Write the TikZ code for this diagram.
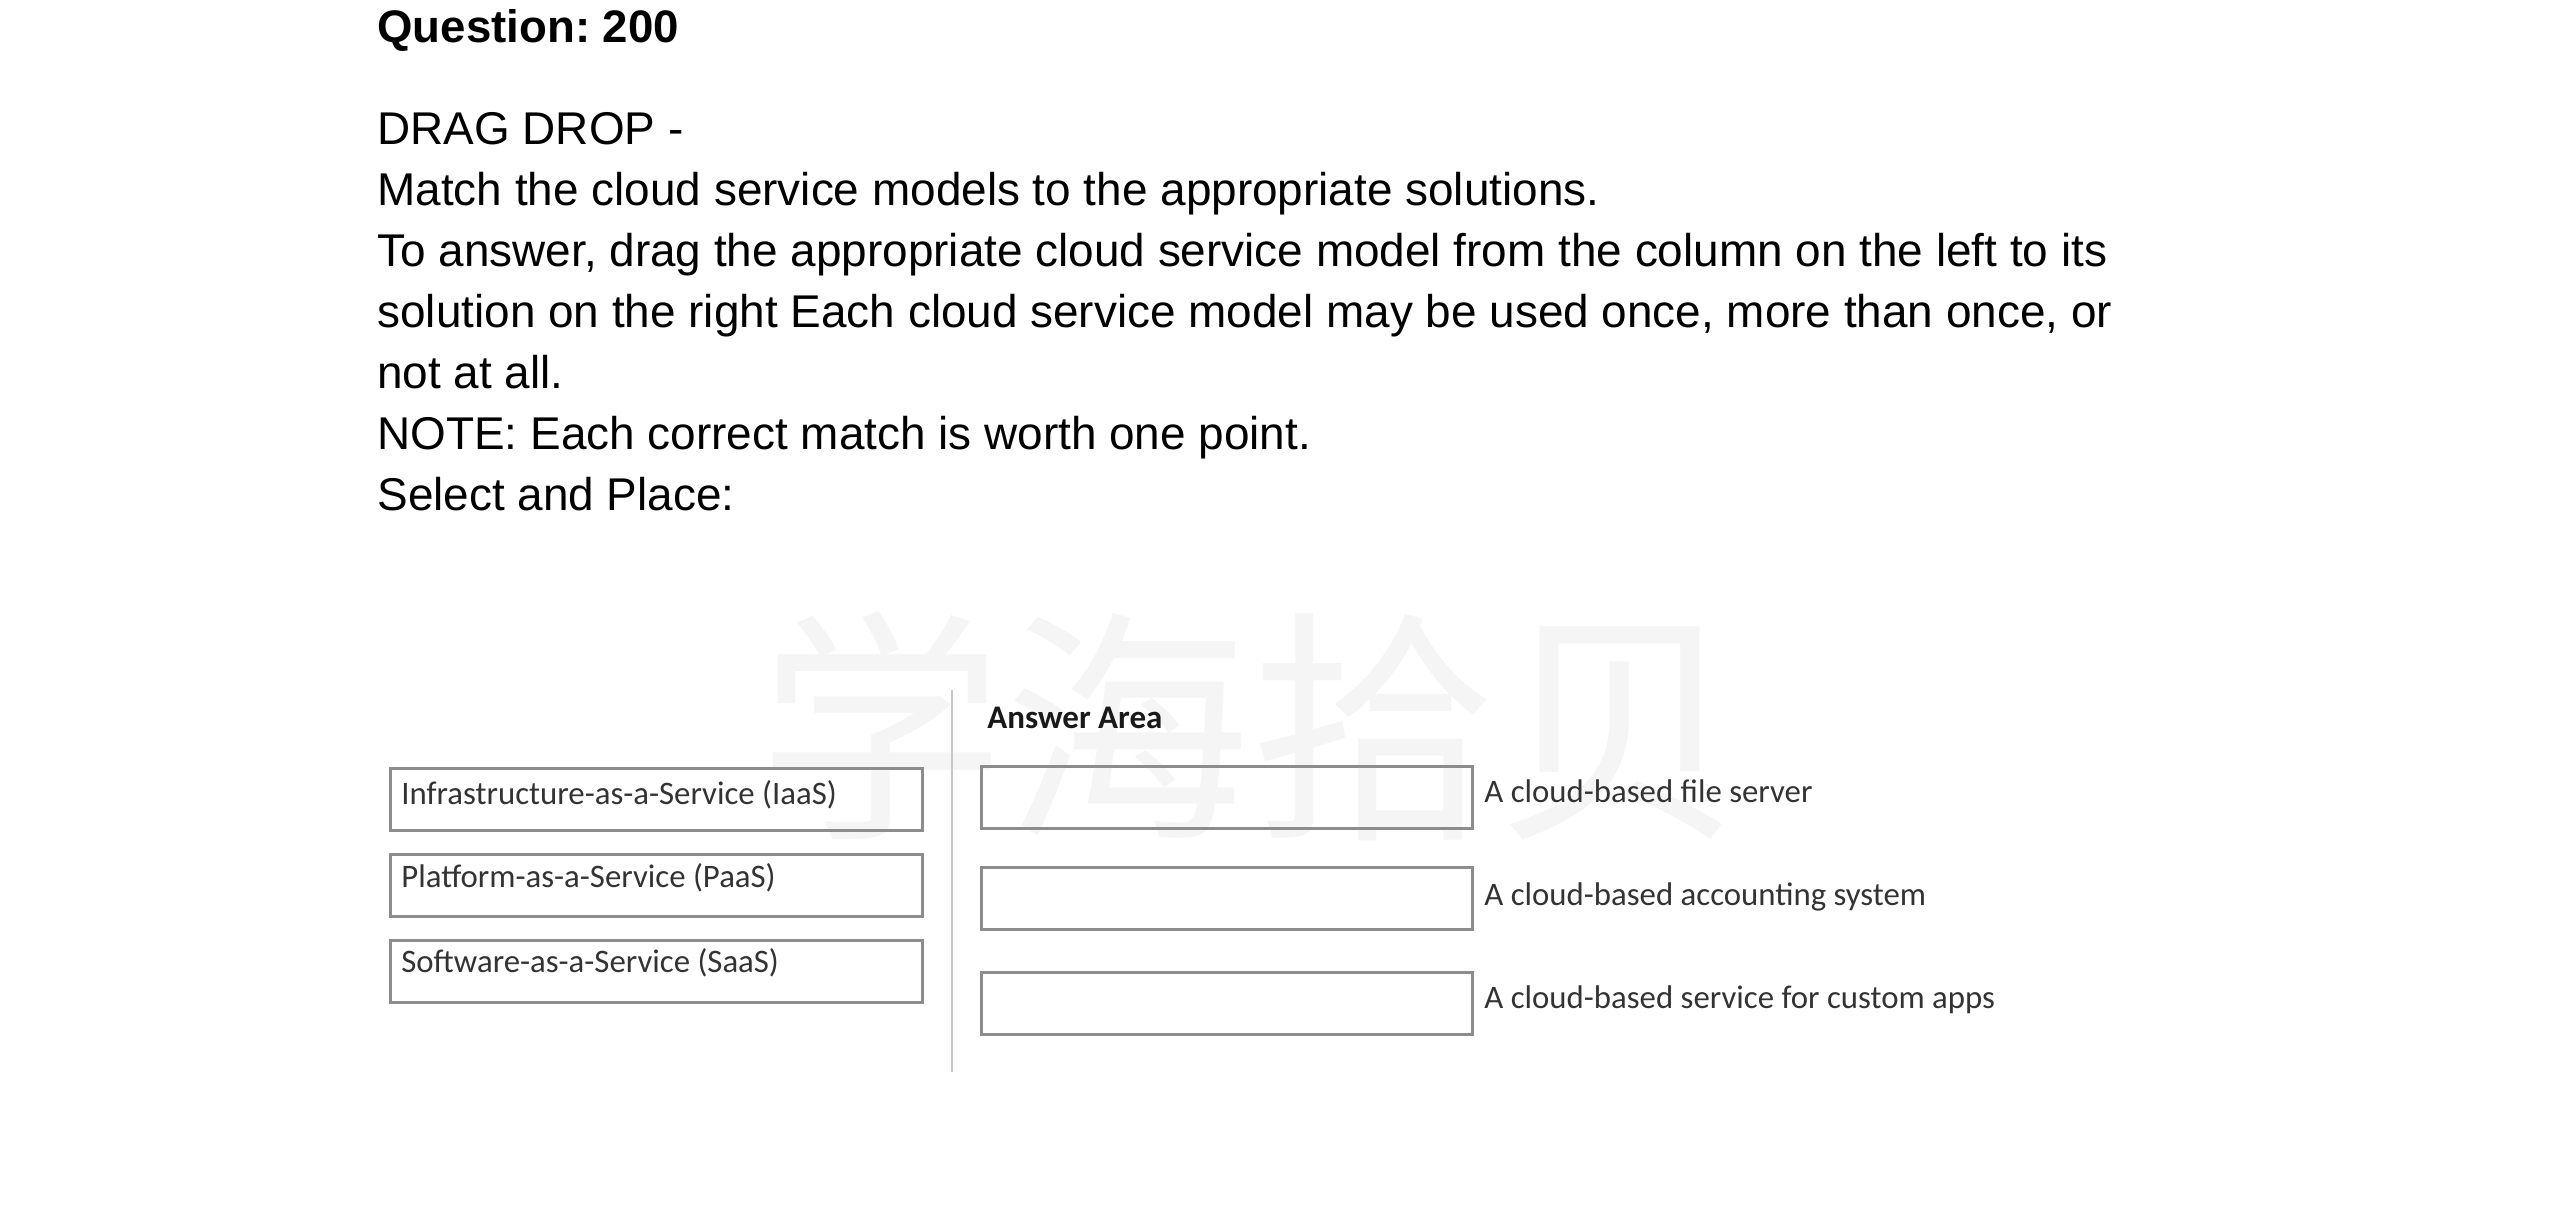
\documentclass[tikz,border=0pt]{standalone}
\usepackage{fontspec}
\setmainfont{Liberation Sans}
\newfontfamily\uifont{Carlito}
\newfontfamily\cjkfont{Noto Sans CJK SC}
\frenchspacing
\begin{document}
\begin{tikzpicture}[x=0.5pt,y=-0.5pt,
  qtext/.style={anchor=base west,inner sep=0pt,font=\fontsize{22.95}{27}\selectfont,text=black},
  uitext/.style={anchor=base west,inner sep=0pt,font=\uifont\fontsize{16.4}{19}\selectfont,text=black!80},
  srcbox/.style={draw=black!45,line width=1.25pt,anchor=north west,inner sep=0pt,minimum width=266pt,minimum height=31pt},
  tgtbox/.style={draw=black!45,line width=1.25pt,anchor=north west,inner sep=0pt,minimum width=245.5pt,minimum height=31pt},
  divider/.style={draw=black!22,line width=1pt},
  wmark/.style={inner sep=0pt,font=\cjkfont\fontsize{123}{123}\selectfont,text=black!4}
]
\useasboundingbox (0,0) rectangle (2550,1231);
\fill[white] (0,0) rectangle (2550,1231);

% watermark
\node[wmark] (wm) at (1250,726) {学海拾贝};

% question text
\node[qtext,font=\fontsize{22.8}{27}\bfseries] (q) at (377,42) {Question: 200};
\node[qtext] (t1) at (377,144) {DRAG DROP -};
\node[qtext] (t2) at (377,205) {Match the cloud service models to the appropriate solutions.};
\node[qtext] (t3) at (377,266) {To answer, drag the appropriate cloud service model from the column on the left to its};
\node[qtext] (t4) at (377,327) {solution on the right Each cloud service model may be used once, more than once, or};
\node[qtext] (t5) at (377,388) {not at all.};
\node[qtext] (t6) at (377,449) {NOTE: Each correct match is worth one point.};
\node[qtext] (t7) at (377,510) {Select and Place:};

% divider
\coordinate (dtop) at (952,690);
\coordinate (dbot) at (952,1072);
\draw[divider] (dtop) -- (dbot);

% source boxes
\node[srcbox] (s1) at (389,767) {};
\node[srcbox] (s2) at (389,853) {};
\node[srcbox] (s3) at (389,939) {};
\node[uitext] (s1t) at (401,804) {Infrastructure-as-a-Service (IaaS)};
\node[uitext] (s2t) at (401,887) {Platform-as-a-Service (PaaS)};
\node[uitext] (s3t) at (401,972) {Software-as-a-Service (SaaS)};

% answer area
\node[uitext,font=\uifont\fontsize{16.5}{19}\bfseries,text=black!90] (aa) at (987,728) {Answer Area};
\node[tgtbox] (a1) at (980,765) {};
\node[tgtbox] (a2) at (980,866) {};
\node[tgtbox] (a3) at (980,971) {};
\node[uitext] (a1t) at (1484,802) {A cloud-based file server};
\node[uitext] (a2t) at (1484,905) {A cloud-based accounting system};
\node[uitext] (a3t) at (1484,1008) {A cloud-based service for custom apps};
\end{tikzpicture}
\end{document}
